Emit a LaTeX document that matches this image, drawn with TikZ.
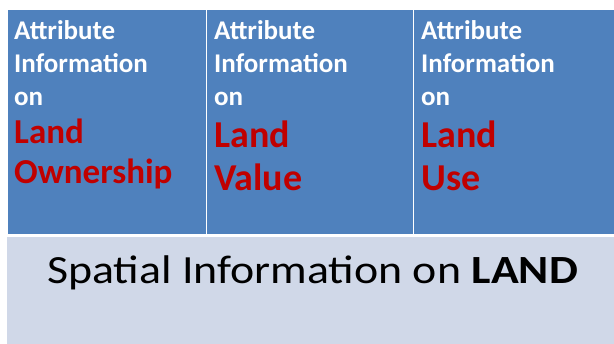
\documentclass[tikz,border=0pt]{standalone}
\usepackage{fontspec}
\setmainfont{Carlito}
\definecolor{boxblue}{HTML}{4F81BD}
\definecolor{baselight}{HTML}{D0D8E8}
\definecolor{landred}{HTML}{C00000}
\tikzset{
  colbox/.style={fill=boxblue, draw=white, line width=1pt, inner sep=0pt, outer sep=0pt, anchor=north west, minimum height=225pt},
  basebox/.style={fill=baselight, inner sep=0pt, outer sep=0pt, anchor=north west},
  wt/.style={text=white, font=\fontsize{27}{33}\selectfont\bfseries, inner sep=0pt, anchor=base west},
  rdA/.style={text=landred, font=\fontsize{35}{40}\selectfont\bfseries, inner sep=0pt, anchor=base west},
  rdB/.style={text=landred, font=\fontsize{38}{43}\selectfont\bfseries, inner sep=0pt, anchor=base west},
  bt/.style={text=black, font=\fontsize{40}{46}\selectfont, inner sep=0pt, anchor=base}
}
\begin{document}
\begin{tikzpicture}[x=1pt,y=-1pt]
\useasboundingbox (0,0) rectangle (614,344);
\node[colbox, minimum width=199pt] (c1) at (7,10) {};
\node[colbox, minimum width=207pt] (c2) at (206,10) {};
\node[colbox, minimum width=202pt] (c3) at (413,10) {};
\node[basebox, minimum width=607pt, minimum height=107pt] (b) at (7,237.5) {};
% column 1
\node[wt] (a1) at (14,39.3) {Attribute};
\node[wt] (i1) at (14,72.5) {Information};
\node[wt] (o1) at (14,105.5) {on};
\node[rdA] (l1) at (14,143.3) {Land};
\node[rdA] (w1) at (14,183.5) {Ownership};
% column 2
\node[wt] (a2) at (214,39.3) {Attribute};
\node[wt] (i2) at (214,72.5) {Information};
\node[wt] (o2) at (214,105.5) {on};
\node[rdB] (l2) at (214,147.7) {Land};
\node[rdB] (v2) at (214,191) {Value};
% column 3
\node[wt] (a3) at (421,39.3) {Attribute};
\node[wt] (i3) at (421,72.5) {Information};
\node[wt] (o3) at (421,105.5) {on};
\node[rdB] (l3) at (421,147.7) {Land};
\node[rdB] (u3) at (421,191) {Use};
% bottom
\node[bt] (s) at (312.5,283.3) {\scalebox{1.146}[1]{Spatial Information on \textbf{LAND}}};
\end{tikzpicture}
\end{document}
